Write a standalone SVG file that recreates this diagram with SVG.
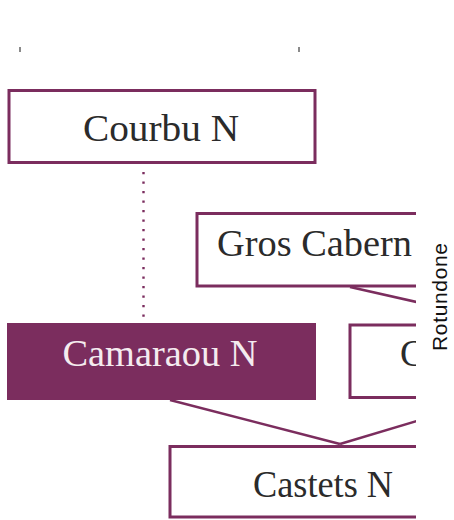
<svg xmlns="http://www.w3.org/2000/svg" width="454" height="520" viewBox="0 0 454 520">
<style>
.box{fill:#fff;stroke:#7b2d5e;stroke-width:3}
.fill{fill:#7b2d5e;stroke:none}
.lbl{font-family:"Liberation Serif","Times New Roman",serif;font-size:37px;fill:#2b2b2b;text-anchor:middle}
.lblw{fill:#f4ebef}
.conn{stroke:#7b2d5e;stroke-width:2.5;fill:none}
.dot{stroke:#7b2d5e;stroke-width:2.4;stroke-dasharray:2.2 7.3;fill:none}
.tick{fill:#8a8a8a}
</style>
<defs>
<clipPath id="clip"><rect x="0" y="0" width="416" height="520"/></clipPath>
</defs>
<rect width="454" height="520" fill="#fff"/>
<rect class="tick" x="19" y="47" width="2" height="5"/>
<rect class="tick" x="298" y="47" width="2" height="5"/>
<g clip-path="url(#clip)">
<g id="connectors">
<line class="dot" x1="143.5" y1="172" x2="143.5" y2="318"/>
<line class="conn" x1="350" y1="287" x2="430" y2="305"/>
<line class="conn" x1="170" y1="400" x2="340" y2="444"/>
<line class="conn" x1="340" y1="444" x2="430" y2="417"/>
</g>
<g id="courbu">
<rect class="box" x="9" y="90.5" width="306" height="72"/>
<text class="lbl" x="161" y="141" textLength="156" lengthAdjust="spacingAndGlyphs">Courbu N</text>
</g>
<g id="gros-cabernet">
<rect class="box" x="197" y="213.5" width="292" height="72.5"/>
<text class="lbl" x="217" y="256" style="text-anchor:start" textLength="195" lengthAdjust="spacingAndGlyphs">Gros Cabern</text>
</g>
<g id="camaraou">
<rect class="fill" x="7" y="323" width="309" height="77"/>
<text class="lbl lblw" x="160" y="366" textLength="195" lengthAdjust="spacingAndGlyphs">Camaraou N</text>
</g>
<g id="c-node">
<rect class="box" x="350" y="325" width="200" height="72.5"/>
<text class="lbl" x="400" y="366" style="text-anchor:start">C</text>
</g>
<g id="castets">
<rect class="box" x="170" y="446.5" width="306" height="70.5"/>
<text class="lbl" x="323" y="497" textLength="140" lengthAdjust="spacingAndGlyphs">Castets N</text>
</g>
</g>
<g id="rotundone">
<text x="447" y="297" transform="rotate(-90 447 297)" font-family="Liberation Sans, Arial, sans-serif" font-size="21" fill="#111" text-anchor="middle" textLength="108">Rotundone</text>
</g>
</svg>
